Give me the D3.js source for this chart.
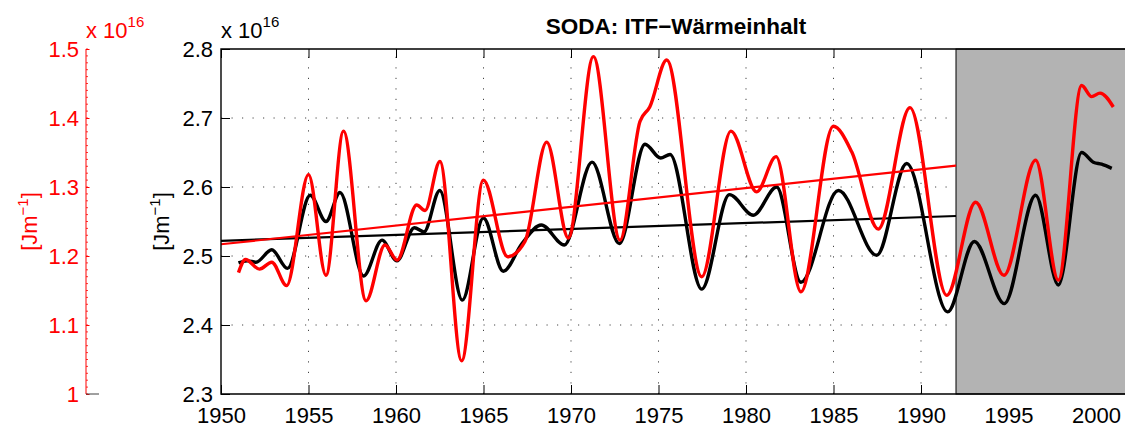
<!DOCTYPE html>
<html>
<head>
<meta charset="utf-8">
<script src="https://cdn.jsdelivr.net/npm/d3@7"></script>
<style>
  html, body { margin: 0; padding: 0; background: #fff; }
  svg { display: block; font-family: "Liberation Sans", Arial, Helvetica, sans-serif; }
</style>
</head>
<body>
<svg id="chart" width="1125" height="428"></svg>
<script>
// ITF heat content (SODA), units of 1e16 J/m
// black series: left main axis (2.3 .. 2.8), red series: outer red axis (1.0 .. 1.5)
const blackYears = [1951.0, 1951.5, 1952.0, 1952.9, 1953.8, 1955.1, 1956.0, 1956.8, 1958.15, 1959.2,
  1960.05, 1961.05, 1961.6, 1962.5, 1963.79, 1964.99, 1966.13, 1967.2, 1968.3, 1969.62,
  1971.2, 1972.76, 1974.23, 1975.12, 1975.66, 1977.47, 1979.05, 1980.42, 1981.75, 1983.14,
  1985.28, 1987.47, 1989.18, 1991.52, 1993.05, 1994.76, 1996.55, 1997.85, 1999.18, 1999.85,
  2000.32, 2000.9];
const blackValues = [2.490, 2.493, 2.491, 2.509, 2.482, 2.588, 2.550, 2.592, 2.471, 2.523,
  2.493, 2.541, 2.535, 2.595, 2.436, 2.555, 2.478, 2.518, 2.545, 2.516,
  2.636, 2.518, 2.662, 2.642, 2.647, 2.452, 2.589, 2.559, 2.600, 2.462,
  2.595, 2.501, 2.634, 2.419, 2.521, 2.431, 2.588, 2.458, 2.650, 2.636,
  2.633, 2.627];

const redYears = [1951.0, 1951.4, 1952.2, 1952.9, 1953.75, 1955.0, 1956.0, 1957.0, 1958.29, 1959.37,
  1960.06, 1961.18, 1961.66, 1962.51, 1963.75, 1964.99, 1966.38, 1967.37, 1968.61, 1969.85,
  1971.28, 1972.8, 1973.94, 1974.5, 1975.47, 1977.47, 1979.14, 1980.61, 1981.72, 1983.14,
  1984.99, 1986.04, 1987.56, 1989.37, 1991.47, 1993.12, 1994.74, 1996.55, 1997.85, 1999.18,
  1999.75, 2000.23, 2000.99];
const redValues = [1.176, 1.195, 1.181, 1.191, 1.157, 1.318, 1.172, 1.381, 1.135, 1.216,
  1.194, 1.274, 1.266, 1.337, 1.048, 1.310, 1.199, 1.221, 1.365, 1.226,
  1.489, 1.223, 1.395, 1.416, 1.484, 1.170, 1.381, 1.293, 1.344, 1.148,
  1.388, 1.351, 1.239, 1.415, 1.143, 1.278, 1.172, 1.339, 1.165, 1.447,
  1.431, 1.436, 1.416];

// linear trends over 1950-1992
const trendYears = [1950, 1992];
const blackTrend = [2.522, 2.558];
const redTrend = [1.217, 1.331];

// shaded period
const shadeYears = [1992, 2002];

const xTicks = [1950, 1955, 1960, 1965, 1970, 1975, 1980, 1985, 1990, 1995, 2000];
const yTicks = [2.3, 2.4, 2.5, 2.6, 2.7, 2.8];
const redTicks = [1, 1.1, 1.2, 1.3, 1.4, 1.5];

const title = "SODA: ITF\u2212Wärmeinhalt";

const svg = d3.select("#chart");
const L = 221, R = 1131, T = 49, B = 394;
const FS = 22;

const x = d3.scaleLinear().domain([1950, 2002]).range([L, R]);
const y = d3.scaleLinear().domain([2.3, 2.8]).range([B, T]);
const yr = d3.scaleLinear().domain([1.0, 1.5]).range([B, T]);

svg.append("defs").append("clipPath").attr("id", "plot")
  .append("rect").attr("x", L).attr("y", T).attr("width", R - L).attr("height", B - T);

// dotted grid
const grid = svg.append("g").attr("stroke", "#444").attr("stroke-width", 1)
  .attr("stroke-dasharray", "1.2,9.3").attr("fill", "none");
grid.selectAll("line.v").data(xTicks.slice(1)).join("line").attr("class", "v")
  .attr("x1", d => x(d)).attr("x2", d => x(d)).attr("y1", B).attr("y2", T);
grid.selectAll("line.h").data(yTicks.slice(1, -1)).join("line").attr("class", "h")
  .attr("y1", d => y(d)).attr("y2", d => y(d)).attr("x1", L).attr("x2", R);

// inward ticks
const axB = svg.append("g").attr("transform", `translate(0,${B})`)
  .call(d3.axisBottom(x).tickValues(xTicks).tickFormat(d3.format("d")).tickSizeInner(-9).tickSizeOuter(0).tickPadding(13.5));
const axT = svg.append("g").attr("transform", `translate(0,${T})`)
  .call(d3.axisTop(x).tickValues(xTicks).tickFormat("").tickSizeInner(-9).tickSizeOuter(0));
const axL = svg.append("g").attr("transform", `translate(${L},0)`)
  .call(d3.axisLeft(y).tickValues(yTicks).tickFormat(d3.format(".1f")).tickSizeInner(-9).tickSizeOuter(0).tickPadding(8));
[axB, axT, axL].forEach(a => {
  a.select(".domain").remove();
  a.selectAll("line").attr("stroke", "#000").attr("stroke-width", 1);
  a.selectAll("text").attr("font-size", FS).attr("fill", "#000").attr("font-family", null);
});

// shaded period with black left edge
svg.append("rect")
  .attr("x", x(shadeYears[0])).attr("y", T)
  .attr("width", x(shadeYears[1]) - x(shadeYears[0])).attr("height", B - T)
  .attr("fill", "#b3b3b3").attr("stroke", "#000").attr("stroke-width", 1);

const plot = svg.append("g").attr("clip-path", "url(#plot)");

const lineB = d3.line().x(d => x(d[0])).y(d => y(d[1])).curve(d3.curveMonotoneX);
const lineR = d3.line().x(d => x(d[0])).y(d => yr(d[1])).curve(d3.curveMonotoneX);
const straightB = d3.line().x(d => x(d[0])).y(d => y(d[1]));
const straightR = d3.line().x(d => x(d[0])).y(d => yr(d[1]));

plot.append("path").datum(d3.zip(trendYears, blackTrend))
  .attr("d", straightB).attr("fill", "none").attr("stroke", "#000").attr("stroke-width", 2.2);
plot.append("path").datum(d3.zip(blackYears, blackValues))
  .attr("d", lineB).attr("fill", "none").attr("stroke", "#000").attr("stroke-width", 3.4)
  .attr("stroke-linejoin", "round");
plot.append("path").datum(d3.zip(trendYears, redTrend))
  .attr("d", straightR).attr("fill", "none").attr("stroke", "#ff0000").attr("stroke-width", 2.2);
plot.append("path").datum(d3.zip(redYears, redValues))
  .attr("d", lineR).attr("fill", "none").attr("stroke", "#ff0000").attr("stroke-width", 3.4)
  .attr("stroke-linejoin", "round");

// axes box
svg.append("path")
  .attr("d", `M${R},${T}H${L}V${B}H${R}`)
  .attr("fill", "none").attr("stroke", "#000").attr("stroke-width", 1.4);

// exponent labels
function exponent(xPos, color) {
  const t = svg.append("text").attr("x", xPos).attr("y", 38).attr("fill", color).attr("font-size", FS);
  t.append("tspan").text("x 10");
  t.append("tspan").attr("dy", -11).attr("font-size", 15).text("16");
}
exponent(L, "#000");

// y label
function ylabel(xPos, color) {
  const t = svg.append("text")
    .attr("transform", `translate(${xPos},${(T + B) / 2}) rotate(-90)`)
    .attr("text-anchor", "middle").attr("fill", color).attr("font-size", FS);
  t.append("tspan").text("[Jm");
  t.append("tspan").attr("dy", -9).attr("font-size", 15).text("\u22121");
  t.append("tspan").attr("dy", 9).text("]");
}
ylabel(169, "#000");

// title
svg.append("text").attr("x", (L + R) / 2).attr("y", 34).attr("text-anchor", "middle")
  .attr("font-size", 22.5).attr("font-weight", "bold").attr("fill", "#000").text(title);

// outer red axis
const RX = 86;
const axR = svg.append("g").attr("transform", `translate(${RX},0)`)
  .call(d3.axisLeft(yr).tickValues(redTicks).tickFormat(d => d === 1 ? "1" : d3.format(".1f")(d))
    .tickSizeInner(-3.5).tickSizeOuter(0).tickPadding(7));
axR.select(".domain").remove();
axR.selectAll("line").attr("stroke", "#ff0000");
axR.selectAll("text").attr("font-size", FS).attr("fill", "#ff0000").attr("font-family", null);
const minor = d3.range(0, 51).map(i => 1 + i / 100);
svg.append("g").selectAll("line").data(minor).join("line")
  .attr("x1", RX).attr("x2", RX + 2).attr("y1", d => yr(d)).attr("y2", d => yr(d))
  .attr("stroke", "#ff0000").attr("stroke-width", 0.8);
svg.append("line").attr("x1", RX).attr("x2", RX).attr("y1", T).attr("y2", B)
  .attr("stroke", "#ff0000").attr("stroke-width", 1);
svg.append("line").attr("x1", RX).attr("x2", RX + 13).attr("y1", B).attr("y2", B)
  .attr("stroke", "#404040").attr("stroke-width", 1);
exponent(RX, "#ff0000");
ylabel(37, "#ff0000");
</script>
</body>
</html>
